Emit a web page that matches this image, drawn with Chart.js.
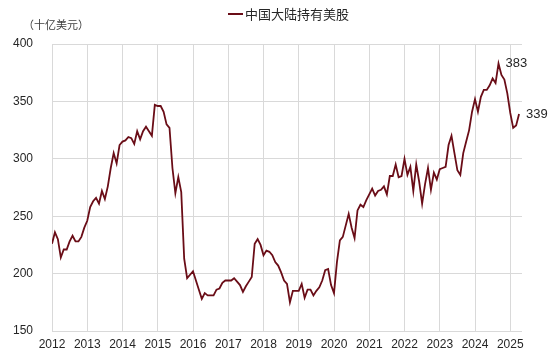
<!DOCTYPE html>
<html>
<head>
<meta charset="utf-8">
<script src="https://cdn.jsdelivr.net/npm/chart.js@4.4.1/dist/chart.umd.min.js"></script>
<style>
html,body{margin:0;padding:0;background:#fff;}
#wrap{width:557px;height:362px;position:relative;}
</style>
</head>
<body>
<div id="wrap"><canvas id="c" width="557" height="362"></canvas></div>
<script>
// Monthly data, Jan 2012 onward (billion USD)
const seriesName = '中国大陆持有美股';
const unitLabel = '（十亿美元）';
const startYear = 2012;
const yearLabels = ['2012','2013','2014','2015','2016','2017','2018','2019','2020','2021','2022','2023','2024','2025'];
const yTicks = [150, 200, 250, 300, 350, 400];
const holdings = [
  226,236,230,214,221,221,228,233,228,228,232,240,
  246,258,263,266,261,272,265,276,292,305,296,312,
  315,316,319,318,313,324,317,324,328,324,320,347,
  346,346,341,330,327,292,270,284,271,213,196,199,
  202,194,186,178,183,181,181,181,186,187,192,194,
  194,194,196,193,190,184,189,193,197,226,230,225,
  216,220,219,216,210,207,201,194,191,175,185,185,
  185,191,179,186,186,181,185,188,194,203,204,190,
  183,210,229,232,242,252,240,231,255,260,258,264,
  269,274,268,272,273,276,269,285,285,295,284,285,
  300,286,293,272,295,280,261,278,292,273,288,282,
  291,292,293,312,320,305,290,286,305,315,325,341,
  352,341,354,360,360,364,370,366,383,373,369,357,
  340,327,329,339
];
const annotated = [
  {label: '383', value: 383},
  {label: '339', value: 339}
];

const lineColor = '#6a0d17';
const gridColor = '#d9d9d9';
const textColor = '#262626';

const points = holdings.map((v, i) => ({x: i, y: v}));
const annIdx = [holdings.indexOf(383), holdings.length - 1];

const overlay = {
  id: 'overlay',
  afterDraw(chart) {
    const ctx = chart.ctx;
    ctx.save();
    // legend
    ctx.strokeStyle = lineColor;
    ctx.lineWidth = 2;
    ctx.beginPath();
    ctx.moveTo(228, 14);
    ctx.lineTo(243, 14);
    ctx.stroke();
    ctx.fillStyle = textColor;
    ctx.font = '13px "Noto Sans CJK SC", sans-serif';
    ctx.textBaseline = 'middle';
    ctx.textAlign = 'left';
    ctx.fillText(seriesName, 245, 14);
    // unit
    ctx.fillStyle = '#404040';
    ctx.font = '11px "Noto Sans CJK SC", sans-serif';
    ctx.fillText(unitLabel, 23, 25);
    // annotations
    const meta = chart.getDatasetMeta(0);
    ctx.fillStyle = textColor;
    ctx.font = '13px "Liberation Sans", Arial, sans-serif';
    annotated.forEach((a, k) => {
      const el = meta.data[annIdx[k]];
      ctx.fillText(a.label, el.x + 7, el.y);
    });
    ctx.restore();
  }
};

new Chart(document.getElementById('c'), {
  type: 'line',
  data: {
    datasets: [{
      label: seriesName,
      data: points,
      borderColor: lineColor,
      borderWidth: 1.8,
      pointRadius: 0,
      tension: 0,
      fill: false
    }]
  },
  options: {
    responsive: false,
    animation: false,
    devicePixelRatio: 1,
    layout: {padding: {left: 0, right: 35, top: 44, bottom: 0}},
    plugins: {legend: {display: false}, tooltip: {enabled: false}},
    scales: {
      x: {
        type: 'linear',
        min: 0,
        max: 160,
        afterBuildTicks: s => { s.ticks = yearLabels.map((y, i) => ({value: i * 12})); },
        afterFit: s => { s.height = 31; },
        ticks: {
          autoSkip: false,
          maxRotation: 0,
          padding: 6,
          color: textColor,
          font: {family: '"Liberation Sans", Arial, sans-serif', size: 12},
          callback: (v) => yearLabels[Math.round(v / 12)] ?? ''
        },
        grid: {color: gridColor, lineWidth: 1, drawTicks: false},
        border: {display: false}
      },
      y: {
        min: 150,
        max: 400,
        afterBuildTicks: s => { s.ticks = yTicks.map(v => ({value: v})); },
        afterFit: s => { s.width = 52; },
        ticks: {
          padding: 19,
          color: textColor,
          font: {family: '"Liberation Sans", Arial, sans-serif', size: 12}
        },
        grid: {color: gridColor, lineWidth: 1, drawTicks: false},
        border: {display: false}
      }
    }
  },
  plugins: [overlay]
});
</script>
</body>
</html>
